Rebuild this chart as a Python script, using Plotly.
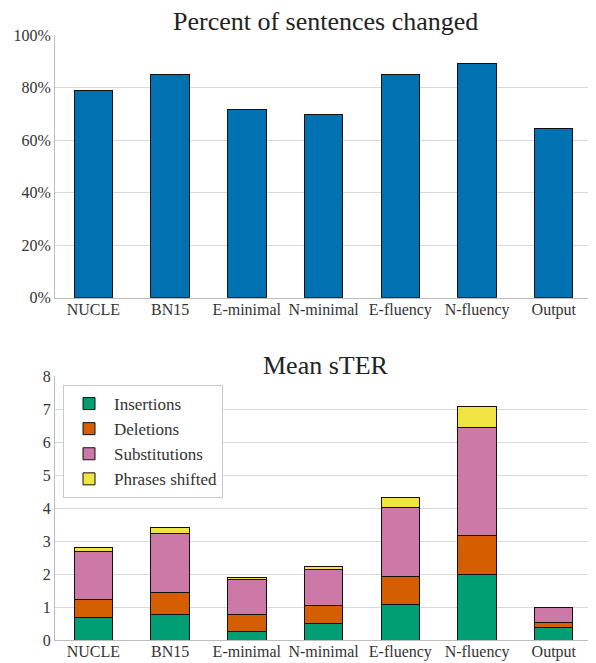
import plotly.graph_objects as go

categories = ["NUCLE", "BN15", "E-minimal", "N-minimal", "E-fluency", "N-fluency", "Output"]
pct_changed = [78.9, 84.9, 71.8, 69.8, 85.0, 89.3, 64.4]
pct_ticks = [0, 20, 40, 60, 80, 100]
pct_tick_labels = ["0%", "20%", "40%", "60%", "80%", "100%"]

insertions = [0.68, 0.76, 0.26, 0.50, 1.07, 1.98, 0.38]
deletions = [0.54, 0.67, 0.50, 0.56, 0.84, 1.18, 0.14]
substitutions = [1.45, 1.80, 1.08, 1.07, 2.11, 3.27, 0.46]
phrases_shifted = [0.13, 0.17, 0.05, 0.11, 0.31, 0.64, 0.02]

stack_names = ["Insertions", "Deletions", "Substitutions", "Phrases shifted"]
stack_values = [insertions, deletions, substitutions, phrases_shifted]
stack_colors = ["#009E73", "#D55E00", "#CC79A7", "#F0E442"]

FONT = "Liberation Serif"
OFF = 8  # page body margin
W, H = 596 - OFF, 663 - OFF
mt, mb, ml, mr = 35 - OFF, 23, 55 - OFF, 0
ph = H - mt - mb

def py(px):
    return (H - mb - (px - OFF)) / ph

fig = go.Figure()
fig.add_trace(go.Bar(x=categories, y=pct_changed, marker=dict(color="#0072B2", line=dict(color="#111", width=1)),
                     width=0.5, showlegend=False, xaxis="x", yaxis="y"))
for name, vals, col in zip(stack_names, stack_values, stack_colors):
    fig.add_trace(go.Bar(x=categories, y=vals, name=name, marker=dict(color=col, line=dict(color="#111", width=1)),
                         width=0.5, xaxis="x2", yaxis="y2"))

def ax(**kw):
    d = dict(showline=True, linecolor="#bdbdbd", linewidth=1, ticks="",
             tickfont=dict(family=FONT, size=16, color="#333"))
    d.update(kw)
    return d

fig.update_layout(
    template="none",
    width=W, height=H, barmode="stack",
    margin=dict(t=mt, b=mb, l=ml, r=mr, autoexpand=False),
    paper_bgcolor="white", plot_bgcolor="white",
    font=dict(family=FONT, color="#333", size=16),
    xaxis=ax(domain=[0, 1], anchor="y", range=[-0.5, 6.55], ticklabelstandoff=-3, tickangle=0),
    yaxis=ax(domain=[py(297.7), 1], anchor="x", range=[0, 100], tickmode="array",
             tickvals=pct_ticks, ticktext=pct_tick_labels,
             showgrid=True, gridcolor="#d9d9d9", zeroline=False),
    xaxis2=ax(domain=[0, 1], anchor="y2", range=[-0.5, 6.55], ticklabelstandoff=-3, tickangle=0),
    yaxis2=ax(domain=[0, py(376)], anchor="x2", range=[0, 8], dtick=1,
              showgrid=True, gridcolor="#d9d9d9", zeroline=False),
    legend=dict(x=(63 - 55) / (W - ml - mr), y=py(385), xanchor="left", yanchor="top",
                bgcolor="white", bordercolor="#c8c8c8", borderwidth=1, traceorder="normal",
                font=dict(family=FONT, size=17, color="#333"), itemwidth=40),
    annotations=[
        dict(text="Percent of sentences changed", x=0.5, y=py(22), xref="paper", yref="paper",
             showarrow=False, font=dict(family=FONT, size=26, color="#222"), yanchor="middle"),
        dict(text="Mean sTER", x=0.5, y=py(365), xref="paper", yref="paper",
             showarrow=False, font=dict(family=FONT, size=26, color="#222"), yanchor="middle"),
    ],
)
fig.write_html("out.html")
